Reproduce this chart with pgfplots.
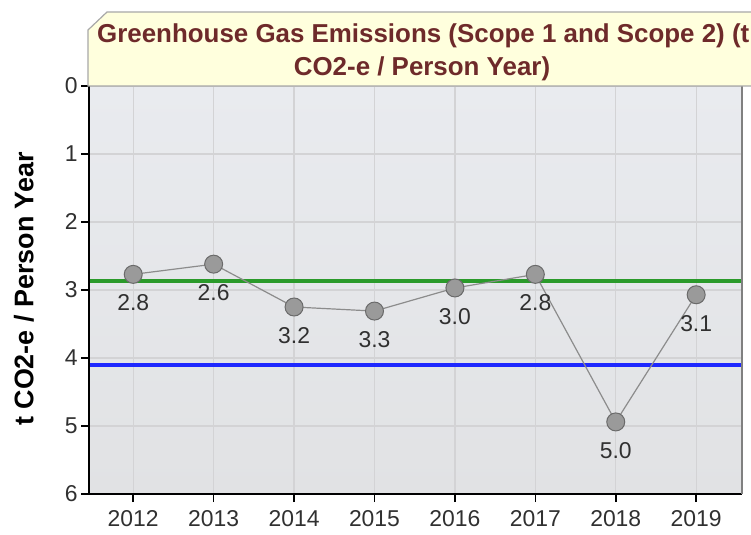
\documentclass[border=0pt]{standalone}
\usepackage{pgfplots}
\pgfplotsset{compat=1.18}
\usepackage{fontspec}
\setmainfont{Liberation Sans}
\definecolor{bgtop}{HTML}{E9EBEF}
\definecolor{bgbot}{HTML}{E1E2E4}
\definecolor{gridc}{HTML}{D3D3D5}
\definecolor{titlec}{HTML}{6E2A2A}
\definecolor{titlebg}{HTML}{FFFFDD}
\definecolor{titlebd}{HTML}{A8A8A8}
\definecolor{markc}{HTML}{9A9A9A}
\definecolor{markbd}{HTML}{6A6A6A}
\definecolor{linec}{HTML}{8C8C8C}
\definecolor{greenc}{HTML}{2A9A2A}
\definecolor{bluec}{HTML}{1E28FF}
\definecolor{textc}{HTML}{303030}
\begin{document}
\begin{tikzpicture}[x=1bp,y=1bp]
\useasboundingbox (0,0) rectangle (751,535);
\begin{axis}[
  at={(89bp,41bp)}, anchor=south west,
  width=653bp, height=408bp, scale only axis,
  xmin=2011.45, xmax=2019.57, ymin=0, ymax=6, y dir=reverse,
  xtick={2012,2013,2014,2015,2016,2017,2018,2019},
  ytick={0,1,2,3,4,5,6},
  /pgf/number format/1000 sep={},
  /pgf/number format/assume math mode=true,
  ticklabel style={font=\fontsize{23}{26}\selectfont, text=textc},
  xticklabel style={yshift=-5bp},
  axis background/.style={top color=bgtop, bottom color=bgbot},
  grid=major, grid style={color=gridc, line width=1.3bp},
  axis line style={draw=none},
  tick align=outside, major tick length=8bp,
  tick style={black, line width=1.5bp},
  xtick pos=left, ytick pos=left,
  xticklabel pos=left,
  clip=false,
]
\addplot[greenc, line width=4bp, forget plot] coordinates {(2011.45,2.87) (2019.57,2.87)};
\addplot[bluec, line width=4bp, forget plot] coordinates {(2011.45,4.10) (2019.57,4.10)};
\addplot[linec, line width=1.2bp, mark=*, mark size=9bp,
  mark options={fill=markc, draw=markbd, line width=1bp},
  point meta=explicit symbolic,
  nodes near coords,
  nodes near coords style={anchor=north, inner sep=0pt, yshift=-20bp,
    font=\fontsize{23}{26}\selectfont, text=textc},
] table[meta=lab] {
x y lab
2012 2.77 2.8
2013 2.62 2.6
2014 3.25 3.2
2015 3.31 3.3
2016 2.97 3.0
2017 2.77 2.8
2018 4.94 5.0
2019 3.07 3.1
};
\draw[black, line width=2bp] (rel axis cs:0,0) -- (rel axis cs:0,1);
\draw[black, line width=2bp] (axis cs:2011.45,6) -- (axis cs:2019.57,6);
\draw[gray, line width=1.5bp] (axis cs:2019.57,0) -- (axis cs:2019.57,6);
\end{axis}
\draw[titlebd, fill=titlebg, line width=1.2bp] (88,449) -- (88,505) -- (107,523) -- (820,523) -- (820,449) -- cycle;
\node[anchor=base west, inner sep=0pt, text=titlec, font=\bfseries\fontsize{26}{30}\selectfont] at (97,492) {Greenhouse Gas Emissions (Scope 1 and Scope 2) (t};
\node[anchor=base, inner sep=0pt, text=titlec, font=\bfseries\fontsize{26}{30}\selectfont] at (422,459) {CO2-e / Person Year)};
\node[rotate=90, text=black, font=\bfseries\fontsize{27}{31}\selectfont] at (24,246) {t CO2-e / Person Year};
\end{tikzpicture}
\end{document}
